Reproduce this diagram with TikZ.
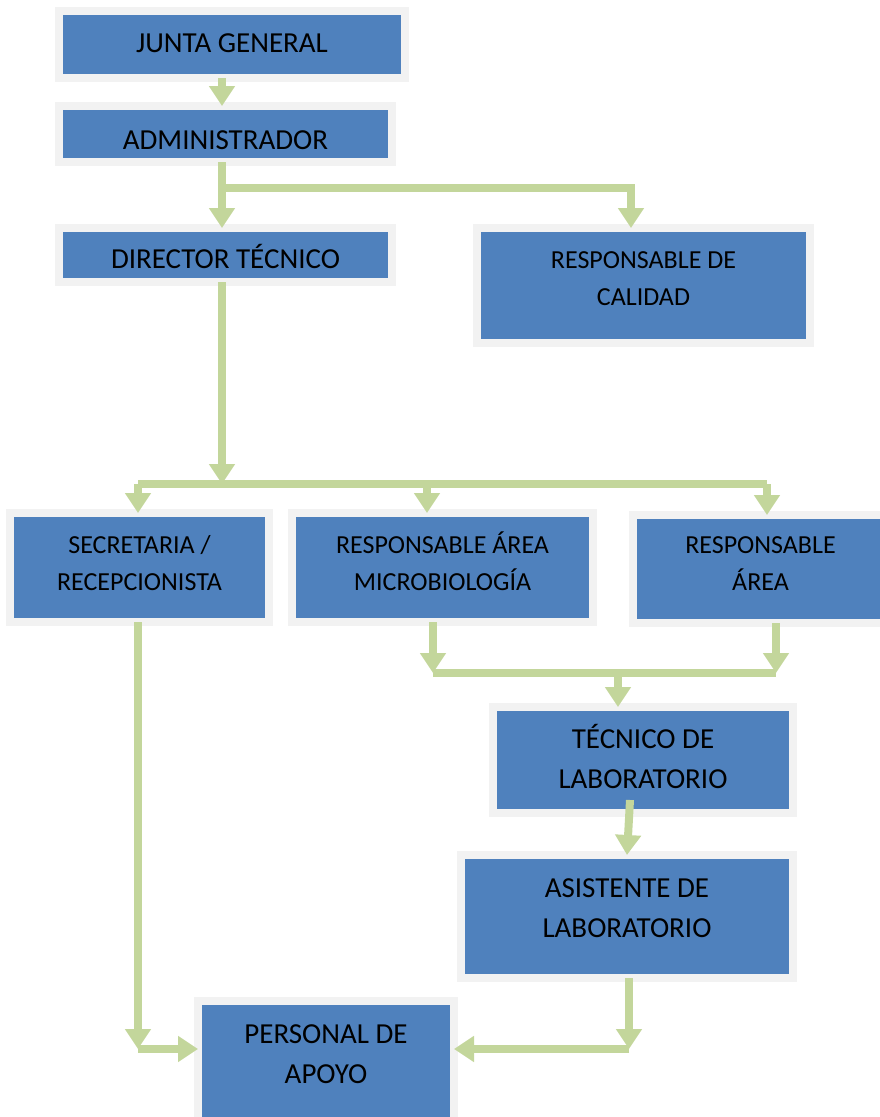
\documentclass[tikz,border=0pt]{standalone}
\usepackage{fontspec}
\setmainfont{Carlito}
\usetikzlibrary{arrows.meta}
\definecolor{BoxBlue}{RGB}{79,129,189}
\definecolor{BoxGray}{RGB}{242,242,242}
\definecolor{LineGreen}{RGB}{195,214,155}
\newcommand{\fbig}{\fontsize{29}{40}\selectfont}
\newcommand{\fsmall}{\fontsize{26}{37}\selectfont}
\tikzset{
    box/.style={rectangle, draw=BoxGray, line width=8pt, fill=BoxBlue, inner sep=0pt, outer sep=0pt, align=center, font=\fbig, text depth=0pt},
    arr/.style={draw=LineGreen, line width=8pt, -{Triangle[width=25pt,length=20pt]}},
    link/.style={draw=LineGreen, line width=8pt}
}

\begin{document}
\begin{tikzpicture}[x=1pt, y=-1pt]
\clip (0,0) rectangle (880,1117);
%Boxes
\node[box, minimum width=346, minimum height=67, text height=15.7pt] (jg) at (232,44.5) {JUNTA GENERAL};
\node[box, minimum width=333, minimum height=56, text height=30.7pt] (adm) at (225.5,134) {ADMINISTRADOR};
\node[box, minimum width=333, minimum height=54, text height=26.7pt] (dir) at (225.5,255) {DIRECTOR TÉCNICO};
\node[box, font=\fsmall, minimum width=333, minimum height=115, text height=39.7pt] (cal) at (643.5,285.5) {RESPONSABLE DE\\CALIDAD};
\node[box, font=\fsmall, minimum width=259, minimum height=109, text height=45.7pt] (sec) at (139.5,567.5) {SECRETARIA /\\RECEPCIONISTA};
\node[box, font=\fsmall, minimum width=301, minimum height=109, text height=45.7pt] (mic) at (442.5,567.5) {RESPONSABLE ÁREA\\MICROBIOLOGÍA};
\node[box, font=\fsmall, minimum width=255, minimum height=108, text height=42.7pt] (fis) at (760.5,569) {RESPONSABLE\\ÁREA};
\node[box, minimum width=300, minimum height=106, text height=56.7pt] (tec) at (643,760) {TÉCNICO DE\\LABORATORIO};
\node[box, minimum width=332, minimum height=123, text height=41.7pt] (asi) at (627,916.5) {ASISTENTE DE\\LABORATORIO};
\node[box, minimum width=256, minimum height=124, text height=40.7pt] (ap) at (326,1063) {PERSONAL DE\\APOYO};
%Junctions
\coordinate (admj) at (222,188);
\coordinate (calj) at (631,188);
\coordinate (dirj) at (222,484);
\coordinate (barl) at (138,484);
\coordinate (barm) at (427,484);
\coordinate (barr) at (767,484);
\coordinate (micj) at (433,673);
\coordinate (fisj) at (776,673);
\coordinate (tecj) at (618,673);
\coordinate (secj) at (138,1049);
\coordinate (asij) at (629,1049);
%Top
\draw[arr] (jg.south -| admj) -- (adm.north -| admj);
\draw[arr] (adm.south -| admj) -- (dir.north -| admj);
\draw[arr] (admj) -| (cal.north -| calj);
%Middle
\draw[arr] (dir.south -| dirj) -- (dirj);
\draw[link] (barl) -- (barr);
\draw[arr] (barl) -- (sec.north -| barl);
\draw[arr] (barm) -- (mic.north -| barm);
\draw[arr] (barr) -- (fis.north -| barr);
\draw[arr] (mic.south -| micj) -- (micj);
\draw[arr] (fis.south -| fisj) -- (fisj);
\draw[link] (micj) -- (fisj);
\draw[arr] (tecj) -- (tec.north -| tecj);
\draw[arr] ([xshift=-13pt,yshift=13pt]tec.south) -- (asi.north);
%Bottom
\draw[arr] (sec.south -| secj) -- (secj);
\draw[arr] (secj) -- (ap.west |- secj);
\draw[arr] (asi.south -| asij) -- (asij);
\draw[arr] (asij) -- (ap.east |- asij);
\end{tikzpicture}
\end{document}
